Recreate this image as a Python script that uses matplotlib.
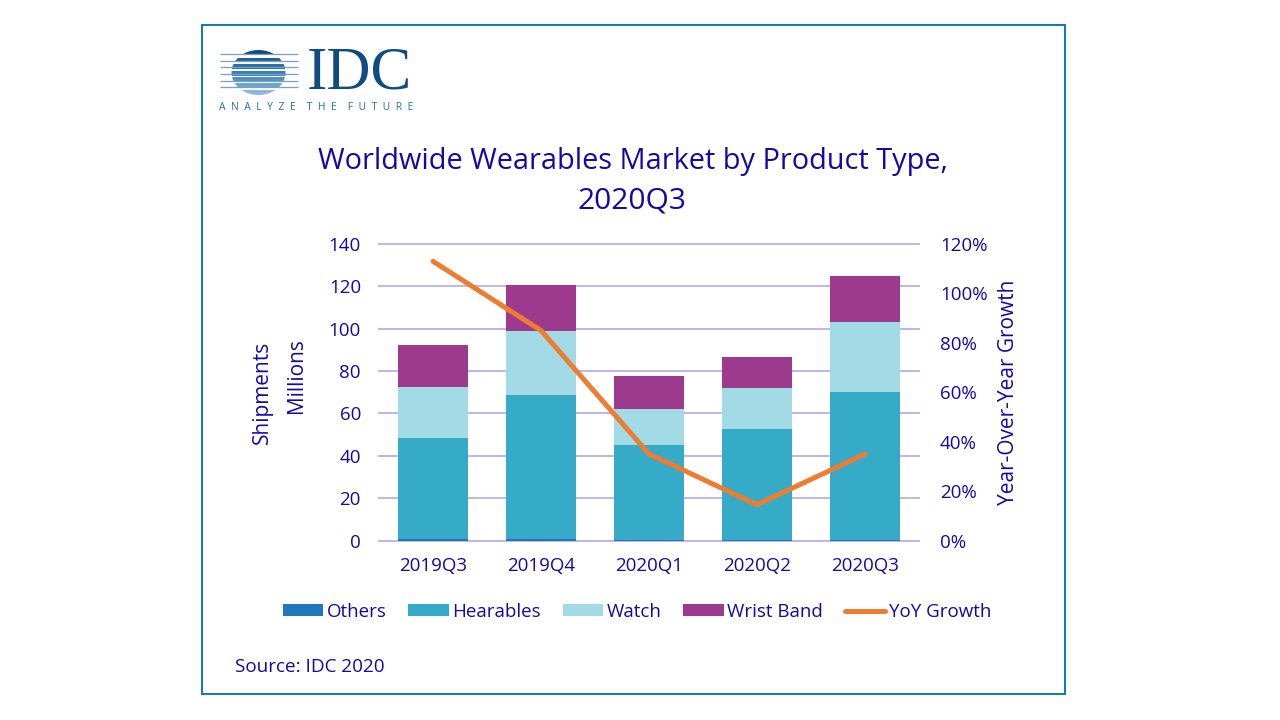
import numpy as np
import matplotlib.pyplot as plt
from matplotlib.patches import Rectangle, Ellipse

plt.rcParams['font.family'] = ['Open Sans', 'DejaVu Sans']

quarters = ['2019Q3', '2019Q4', '2020Q1', '2020Q2', '2020Q3']
others = [0.8, 0.8, 0.4, 0.4, 0.4]
hearables = [47.7, 67.7, 44.8, 52.2, 69.8]
watch = [24.0, 30.5, 17.0, 19.5, 33.0]
wrist_band = [20.0, 21.5, 15.5, 14.7, 21.8]
yoy_growth = [113, 85, 35, 14.5, 35]

TEXT = '#1309a8'
W, H = 1280, 720

fig = plt.figure(figsize=(12.8, 7.2), dpi=100, facecolor='white')

# background layer in pixel coordinates: frame and logo
bg = fig.add_axes([0, 0, 1, 1])
bg.set_xlim(0, W)
bg.set_ylim(H, 0)
bg.axis('off')
bg.add_patch(Rectangle((202, 25), 863, 669, fill=False, ec='#1a7aad', lw=1.5))

globe = Ellipse((258.5, 72.5), 54, 45, transform=bg.transData)
stripes = [(50, 5, '#0f4c81'), (57.5, 4.5, '#1f629c'), (64, 4.5, '#2a70aa'), (70.5, 5, '#3a80ba'),
           (77, 5, '#4f93c6'), (83, 5, '#6ba6d3'), (90, 5, '#8ab8dc')]
for y, h, c in stripes:
    r = bg.add_patch(Rectangle((230, y), 58, h, fc=c, ec='none'))
    r.set_clip_path(globe)
for y in [54, 61, 67, 74, 81, 87]:
    bg.plot([220, 298], [y, y], color='#7f9fbd', lw=0.9, solid_capstyle='butt')
bg.text(307, 73.5, 'IDC', family='Liberation Serif', fontsize=44, color='#0f4c81', va='center', ha='left')
bg.text(219, 107.5, 'A  N  A  L  Y  Z  E    T  H  E    F  U  T  U  R  E', family='Open Sans', fontsize=7.5,
        color='#2a6f9e', va='center', ha='left')

bg.text(632.5, 161.5, 'Worldwide Wearables Market by Product Type,', fontsize=20.8, color=TEXT, ha='center', va='center')
bg.text(632, 201, '2020Q3', fontsize=21.5, color=TEXT, ha='center', va='center')
bg.text(235, 667, 'Source: IDC 2020', fontsize=13.6, color=TEXT, ha='left', va='center')
bg.text(262, 392, 'Shipments', fontsize=15, color=TEXT, rotation=90, ha='center', va='center')
bg.text(296, 376, 'Millions', fontsize=15, color=TEXT, rotation=90, ha='center', va='center')
bg.text(1008, 392, 'Year-Over-Year Growth', fontsize=15, color=TEXT, rotation=90, ha='center', va='center')

# chart
ax = fig.add_axes([379 / W, 1 - 540.5 / H, 540 / W, 296.5 / H])
ax.patch.set_alpha(0)
x = np.arange(len(quarters))
bar_w = 0.65
colors = ['#2a6fc0', '#35abc8', '#a2dbe6', '#9e3a8e']
legend_colors = ['#1f77bd', '#35abc8', '#a2dbe6', '#9e3a8e']
bottom = np.zeros(len(quarters))
labels = ['Others', 'Hearables', 'Watch', 'Wrist Band']
handles = []
for vals, c, lc, lab in zip([others, hearables, watch, wrist_band], colors, legend_colors, labels):
    ax.bar(x, vals, bar_w, bottom=bottom, color=c, zorder=3)
    handles.append(Rectangle((0, 0), 1, 1, fc=lc, ec='none'))
    bottom += np.array(vals)

ax.set_xlim(-0.5, len(quarters) - 0.5)
ax.set_ylim(0, 140)
ax.set_yticks(np.arange(0, 141, 20))
ax.set_xticks(x, quarters)
ax.yaxis.grid(True, color='#bdb4ec', lw=1.4, zorder=0, clip_on=False)
ax.set_axisbelow(True)
for s in ax.spines.values():
    s.set_visible(False)
ax.tick_params(axis='both', length=0, labelcolor=TEXT, labelsize=13.5)
ax.tick_params(axis='y', pad=13)
ax.tick_params(axis='x', pad=12)

ax2 = ax.twinx()
ax2.patch.set_alpha(0)
line, = ax2.plot(x, yoy_growth, color='#ed7d31', lw=3.6, solid_capstyle='round', zorder=5)
ax2.set_ylim(0, 120)
ax2.set_yticks(np.arange(0, 121, 20))
ax2.set_yticklabels([f'{v}%' for v in range(0, 121, 20)])
for s in ax2.spines.values():
    s.set_visible(False)
ax2.tick_params(axis='y', length=0, labelcolor=TEXT, labelsize=13.5, pad=15)

fig.legend(handles=handles + [line], labels=labels + ['YoY Growth'], loc='center',
           bbox_to_anchor=(637 / W, 1 - 612 / H), ncol=5, frameon=False, fontsize=13.5,
           labelcolor=TEXT, handlelength=2.15, handleheight=0.6, handletextpad=0.2, columnspacing=1.15)

fig.savefig('out.png', dpi=100)
